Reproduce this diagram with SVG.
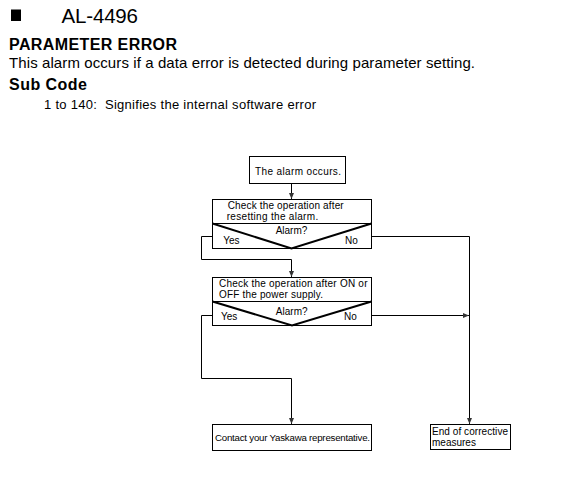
<svg xmlns="http://www.w3.org/2000/svg" width="568" height="485" viewBox="0 0 568 485">
<style>
.t{font-family:"Liberation Sans",Arial,sans-serif;fill:#000}
.b{font-weight:bold}
.f{font-size:10px}
.box{fill:#fff;stroke:#000;stroke-width:1}
.v{fill:none;stroke:#000;stroke-width:2}
.c{fill:none;stroke:#000;stroke-width:1}
</style>
<defs>
<marker id="ah" markerWidth="6" markerHeight="6" refX="6" refY="3" orient="auto" markerUnits="userSpaceOnUse">
<path d="M0,0.5 L6,3 L0,5.5 z" fill="#333"/>
</marker>
</defs>
<rect width="568" height="485" fill="#fff"/>
<g id="header">
<rect x="11" y="9.5" width="10" height="11.5" fill="#000"/>
<text class="t" x="61.5" y="22.7" font-size="20.5" textLength="76.5">AL-4496</text>
<text class="t b" x="9" y="49.5" font-size="16" textLength="168">PARAMETER ERROR</text>
<text class="t" x="9" y="67.7" font-size="15" textLength="466">This alarm occurs if a data error is detected during parameter setting.</text>
<text class="t b" x="9" y="89.5" font-size="16" textLength="78">Sub Code</text>
<text class="t" x="44" y="109" font-size="13" textLength="272" xml:space="preserve">1 to 140:  Signifies the internal software error</text>
</g>
<g id="connectors">
<line class="c" x1="291.5" y1="183.5" x2="291.5" y2="199" marker-end="url(#ah)"/>
<polyline class="c" points="212.5,236.5 201.5,236.5 201.5,259.5 291.5,259.5 291.5,277" marker-end="url(#ah)"/>
<polyline class="c" points="371.5,236.5 469.5,236.5 469.5,424" marker-end="url(#ah)"/>
<polyline class="c" points="371.5,315.5 469,315.5" marker-end="url(#ah)"/>
<polyline class="c" points="212.5,315.5 201.5,315.5 201.5,378.5 291.5,378.5 291.5,424" marker-end="url(#ah)"/>
</g>
<g id="n1">
<rect class="box" x="249.5" y="156.5" width="96" height="27"/>
<text class="t f" x="255" y="174.5" textLength="86">The alarm occurs.</text>
</g>
<g id="n2">
<rect class="box" x="212.5" y="199.5" width="159" height="49"/>
<line class="c" x1="212.5" y1="223.5" x2="371.5" y2="223.5"/>
<polyline class="v" points="212.5,223.5 291.5,248.5 371.5,223.5"/>
<text class="t f" x="227.7" y="208.5" textLength="116">Check the operation after</text>
<text class="t f" x="226.7" y="219.5" textLength="91.5">resetting the alarm.</text>
<text class="t f" x="291.5" y="234.3" text-anchor="middle">Alarm?</text>
<text class="t f" x="223.3" y="243.5">Yes</text>
<text class="t f" x="345" y="243.5">No</text>
</g>
<g id="n3">
<rect class="box" x="212.5" y="277.5" width="159" height="48"/>
<line class="c" x1="212.5" y1="301.5" x2="371.5" y2="301.5"/>
<polyline class="v" points="212.5,301.5 292,325.5 371.5,301.5"/>
<text class="t f" x="219" y="286.7" textLength="148.5">Check the operation after ON or</text>
<text class="t f" x="219" y="298.3" textLength="104">OFF the power supply.</text>
<text class="t f" x="291.7" y="315" text-anchor="middle">Alarm?</text>
<text class="t f" x="221" y="319.5">Yes</text>
<text class="t f" x="344" y="319.5">No</text>
</g>
<g id="n4">
<rect class="box" x="212.5" y="424.5" width="159" height="26"/>
<text class="t" x="215" y="440.5" font-size="9.7" textLength="155">Contact your Yaskawa representative.</text>
</g>
<g id="n5">
<rect class="box" x="430.5" y="424.5" width="80" height="25"/>
<text class="t f" x="432" y="435" textLength="76">End of corrective</text>
<text class="t f" x="432" y="446">measures</text>
</g>
</svg>
